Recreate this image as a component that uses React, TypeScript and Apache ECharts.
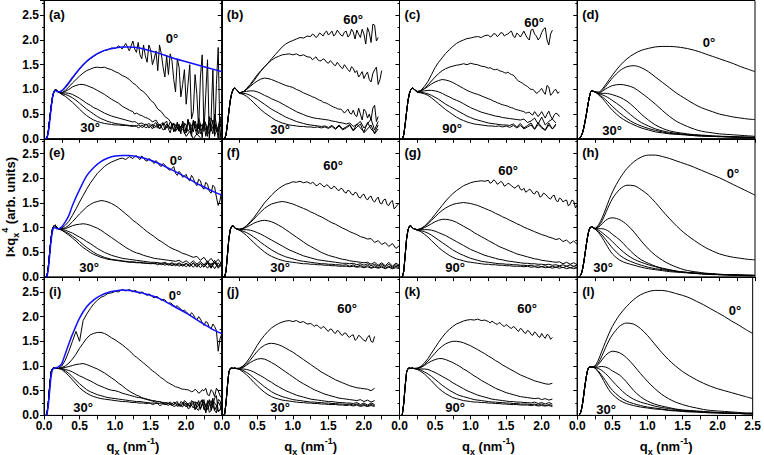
import React, { useEffect, useRef } from 'react';
import * as echarts from 'echarts';

// ---------- q grids ----------
const Q_LOW = [0.02, 0.04, 0.06, 0.08, 0.1, 0.12, 0.14, 0.16, 0.18, 0.2];
const Q_EXP = [0.25, 0.3, 0.35, 0.4, 0.45, 0.5, 0.55, 0.6, 0.65, 0.7,
  0.75, 0.8, 0.85, 0.9, 0.95, 1.0, 1.05, 1.1, 1.15, 1.2,
  1.25, 1.3, 1.35, 1.4, 1.45, 1.5, 1.55, 1.6, 1.65, 1.7,
  1.75, 1.8, 1.85, 1.9, 1.95, 2.0, 2.05, 2.1, 2.15, 2.2,
  2.25, 2.3, 2.35, 2.4, 2.45, 2.5];
// in-between q points used for the noisy tails
const Q_MID = [1.275, 1.325, 1.375, 1.425, 1.475, 1.525, 1.575, 1.625, 1.675, 1.725,
  1.775, 1.825, 1.875, 1.925, 1.975, 2.025, 2.075, 2.125, 2.175, 2.225,
  2.275, 2.325, 2.375, 2.425, 2.475];
const Q_SIM = [0.25, 0.3, 0.35, 0.4, 0.45, 0.5, 0.6, 0.7, 0.8, 0.9, 1.0, 1.1, 1.2, 1.3,
  1.4, 1.5, 1.6, 1.7, 1.8, 1.9, 2.0, 2.1, 2.2, 2.3, 2.4, 2.5];
const Q_FIT = [0.25, 0.3, 0.35, 0.4, 0.5, 0.6, 0.7, 0.8, 0.9, 1.0, 1.1, 1.2, 1.3, 1.4, 1.6, 1.8, 2.0, 2.2, 2.4, 2.5];

// ---------- tick labels ----------
const X_TICKS = ['0.0', '0.5', '1.0', '1.5', '2.0', '2.5'];
const Y_TICKS = ['0.0', '0.5', '1.0', '1.5', '2.0', '2.5'];
const PANEL_IDS = ['(a)', '(b)', '(c)', '(d)', '(e)', '(f)', '(g)', '(h)', '(i)', '(j)', '(k)', '(l)'];

// ---------- panel (a) ----------
const LOW_A = [0, 0, 0.15, 0.4, 0.65, 0.85, 0.96, 1.0, 0.98, 0.95];
const FITLOW_A = [0, 0.02, 0.12, 0.35, 0.62, 0.84, 0.95, 0.98, 0.96, 0.95];
const FIT_A = [0.97, 1.05, 1.14, 1.24, 1.42, 1.57, 1.68, 1.76, 1.81, 1.84, 1.86, 1.86, 1.85, 1.82, 1.74, 1.64, 1.56, 1.48, 1.4, 1.36];
const A0 = [0.97, 1.03, 1.12, 1.22, 1.32, 1.41, 1.49, 1.56, 1.62, 1.67,
  1.72, 1.75, 1.79, 1.8, 1.84, 1.83, 1.88, 1.82, 1.93, 1.78,
  1.98, 1.75, 1.7, 1.9, 1.55, 1.8, 1.62, 1.38, 1.72, 1.25,
  1.3, 1.58, 0.95, 1.45, 1.1, 0.7, 1.5, 0.55, 0.9, 1.25,
  0.15, 1.6, 0.4, 0.05, 1.85, 0.3];
const A0_MID = [1.82, 1.95, 1.62, 1.68, 1.9, 1.5, 1.78, 1.9, 1.45, 1.68,
  1.72, 1.2, 1.62, 0.85, 1.4, 1.1, 0.4, 1.3, 0.2, 1.7,
  0.9, 0.0, 1.4, 1.1, 0.0];
const A1 = [0.93, 0.98, 1.05, 1.13, 1.2, 1.27, 1.33, 1.38, 1.41, 1.44,
  1.45, 1.44, 1.45, 1.42, 1.4, 1.36, 1.33, 1.28, 1.25, 1.2,
  1.13, 1.08, 1.0, 0.95, 0.88, 0.78, 0.72, 0.6, 0.55, 0.45,
  0.4, 0.3, 0.28, 0.15, 0.2, 0.05, 0.15, 0.0, 0.1, 0.02,
  null, null, null, null, null, null];
const A2 = [0.93, 0.96, 1.0, 1.05, 1.08, 1.1, 1.1, 1.08, 1.05, 1.02,
  0.98, 0.94, 0.9, 0.85, 0.8, 0.76, 0.72, 0.66, 0.62, 0.58,
  0.55, 0.52, 0.48, 0.45, 0.42, 0.38, 0.36, 0.32, 0.3, 0.28,
  0.25, 0.3, 0.22, 0.18, 0.32, 0.15, 0.24, 0.35, 0.08, 0.3,
  0.4, 0.05, 0.22, 0.5, 0.0, 0.35];
const A2_MID = [0.5, 0.5, 0.47, 0.43, 0.4, 0.34, 0.38, 0.27, 0.33, 0.22,
  0.34, 0.15, 0.3, 0.24, 0.1, 0.38, 0.12, 0.2, 0.42, 0.02,
  0.3, 0.45, 0.1, 0.28, 0.45];
const A3 = [0.92, 0.93, 0.92, 0.9, 0.86, 0.82, 0.77, 0.72, 0.68, 0.63,
  0.6, 0.56, 0.52, 0.49, 0.46, 0.44, 0.42, 0.4, 0.38, 0.36,
  0.34, 0.33, 0.31, 0.3, 0.29, 0.28, 0.3, 0.24, 0.27, 0.32,
  0.2, 0.26, 0.15, 0.3, 0.36, 0.12, 0.22, 0.38, 0.15, 0.1,
  0.38, 0.2, 0.42, 0.08, 0.25, 0.2];
const A3_MID = [0.35, 0.3, 0.32, 0.28, 0.31, 0.25, 0.33, 0.2, 0.3, 0.36,
  0.12, 0.32, 0.22, 0.1, 0.28, 0.4, 0.05, 0.3, 0.35, 0.18,
  0.05, 0.38, 0.3, 0.15, 0.4];
const A4 = [0.91, 0.9, 0.87, 0.83, 0.78, 0.72, 0.66, 0.6, 0.55, 0.5,
  0.45, 0.41, 0.38, 0.35, 0.33, 0.31, 0.3, 0.29, 0.28, 0.27,
  0.27, 0.26, 0.27, 0.24, 0.28, 0.25, 0.22, 0.3, 0.24, 0.18,
  0.27, 0.31, 0.2, 0.16, 0.28, 0.22, 0.33, 0.14, 0.24, 0.3,
  0.35, 0.15, 0.22, 0.32, 0.14, 0.24];
const A4_MID = [0.25, 0.28, 0.23, 0.3, 0.22, 0.3, 0.25, 0.2, 0.32, 0.25,
  0.2, 0.14, 0.34, 0.25, 0.15, 0.3, 0.2, 0.36, 0.1, 0.25,
  0.3, 0.1, 0.38, 0.2, 0.3];
const A5 = [0.9, 0.86, 0.8, 0.74, 0.67, 0.6, 0.53, 0.47, 0.42, 0.38,
  0.35, 0.33, 0.31, 0.3, 0.29, 0.28, 0.28, 0.27, 0.27, 0.26,
  0.25, 0.26, 0.24, 0.26, 0.23, 0.25, 0.27, 0.22, 0.24, 0.2,
  0.26, 0.23, 0.28, 0.19, 0.22, 0.27, 0.2, 0.3, 0.25, 0.17,
  0.28, 0.22, 0.16, 0.3, 0.22, 0.25];
const A5_MID = [0.27, 0.22, 0.28, 0.23, 0.27, 0.2, 0.25, 0.3, 0.18, 0.3,
  0.2, 0.3, 0.22, 0.26, 0.32, 0.15, 0.28, 0.22, 0.33, 0.2,
  0.18, 0.32, 0.24, 0.14, 0.3];

// ---------- panel (b) ----------
const LOW_B = [null, 0, 0.08, 0.3, 0.55, 0.78, 0.92, 1.0, 1.03, 1.01];
const B0 = [0.93, 0.95, 1.02, 1.1, 1.2, 1.3, 1.38, 1.45, 1.53, 1.62,
  1.7, 1.78, 1.86, 1.92, 1.96, 1.99, 2.02, 2.05, 2.04, 2.08,
  2.07, 2.1, 2.08, 2.12, 2.15, 2.1, 2.18, 2.12, 2.15, 2.08,
  2.18, 2.1, 2.16, 2.2, 2.05, 2.12, 2.25, 1.95, 2.3, 2.05,
  null, null, null, null, null, null];
const B0_MID = [2.12, 2.05, 2.14, 2.08, 2.18, 2.14, 2.08, 2.2, 2.1, 2.16,
  2.06, 2.22, 2.02, 2.12, 2.22, 1.92, 2.15, 2.32, 1.98, null,
  null, null, null, null, null];
const B1 = [0.93, 0.95, 1.0, 1.08, 1.17, 1.27, 1.37, 1.46, 1.53, 1.59,
  1.64, 1.67, 1.7, 1.71, 1.72, 1.7, 1.72, 1.68, 1.7, 1.66,
  1.65, 1.63, 1.6, 1.58, 1.6, 1.53, 1.55, 1.48, 1.5, 1.42,
  1.45, 1.36, 1.42, 1.38, 1.3, 1.22, 1.35, 1.15, 1.4, 1.1,
  1.38, null, null, null, null, null];
const B1_MID = [1.6, 1.66, 1.58, 1.62, 1.55, 1.58, 1.5, 1.55, 1.45, 1.5,
  1.4, 1.46, 1.34, 1.25, 1.36, 1.3, 1.2, 1.32, 1.45, 1.2,
  null, null, null, null, null];
const B2 = [0.93, 0.95, 1.0, 1.06, 1.12, 1.17, 1.21, 1.23, 1.22, 1.2,
  1.17, 1.14, 1.11, 1.08, 1.06, 1.04, 1.0, 0.97, 0.93, 0.9,
  0.87, 0.84, 0.8, 0.77, 0.73, 0.7, 0.66, 0.63, 0.6, 0.57,
  0.56, 0.52, 0.58, 0.45, 0.5, 0.6, 0.42, 0.38, 0.68, 0.45,
  null, null, null, null, null, null];
const B2_MID = [0.85, 0.82, 0.78, 0.74, 0.72, 0.68, 0.64, 0.61, 0.6, 0.52,
  0.6, 0.5, 0.48, 0.62, 0.38, 0.55, 0.5, 0.62, 0.35, null,
  null, null, null, null, null];
const B3 = [0.93, 0.95, 0.96, 0.97, 0.97, 0.95, 0.92, 0.88, 0.85, 0.81,
  0.78, 0.75, 0.71, 0.67, 0.63, 0.59, 0.55, 0.52, 0.49, 0.46,
  0.44, 0.42, 0.41, 0.4, 0.39, 0.38, 0.36, 0.35, 0.33, 0.32,
  0.3, 0.32, 0.25, 0.29, 0.35, 0.22, 0.3, 0.4, 0.18, 0.35,
  null, null, null, null, null, null];
const B4 = [0.92, 0.92, 0.91, 0.88, 0.84, 0.8, 0.75, 0.7, 0.65, 0.6,
  0.56, 0.52, 0.48, 0.44, 0.41, 0.38, 0.35, 0.33, 0.31, 0.29,
  0.28, 0.27, 0.26, 0.25, 0.26, 0.23, 0.27, 0.21, 0.28, 0.2,
  0.24, 0.29, 0.17, 0.3, 0.22, 0.14, 0.33, 0.2, 0.12, 0.28,
  null, null, null, null, null, null];
const B5 = [0.92, 0.9, 0.86, 0.8, 0.73, 0.66, 0.59, 0.53, 0.48, 0.43,
  0.38, 0.35, 0.32, 0.3, 0.28, 0.27, 0.26, 0.25, 0.25, 0.24,
  0.24, 0.23, 0.24, 0.22, 0.24, 0.21, 0.25, 0.19, 0.26, 0.18,
  0.22, 0.27, 0.16, 0.24, 0.3, 0.12, 0.2, 0.28, 0.1, 0.2,
  null, null, null, null, null, null];

// ---------- panel (c) ----------
const LOW_C = [null, 0, 0.08, 0.3, 0.55, 0.78, 0.92, 1.0, 1.03, 1.01];
const C0 = [0.96, 0.98, 1.06, 1.16, 1.3, 1.44, 1.55, 1.64, 1.73, 1.8,
  1.87, 1.93, 1.97, 2.0, 2.03, 2.04, 2.06, 2.07, 2.05, 2.09,
  2.1, 2.08, 2.12, 2.1, 2.14, 2.11, 2.16, 2.08, 2.14, 2.06,
  2.18, 2.04, 2.2, 2.12, 2.0, 2.15, 2.25, 1.9, 2.2, null,
  null, null, null, null, null, null];
const C0_MID = [2.06, 2.13, 2.07, 2.15, 2.08, 2.12, 2.18, 2.05, 2.11, 2.12,
  2.1, 2.0, 2.22, 2.08, 2.05, 2.22, 2.0, 2.12, null, null,
  null, null, null, null, null];
const C1 = [0.95, 0.97, 1.02, 1.09, 1.17, 1.25, 1.32, 1.38, 1.42, 1.45,
  1.47, 1.49, 1.5, 1.52, 1.5, 1.53, 1.51, 1.5, 1.47, 1.46,
  1.43, 1.42, 1.4, 1.38, 1.36, 1.33, 1.32, 1.29, 1.2, 1.15,
  1.1, 1.06, 1.0, 0.97, 0.94, 1.02, 0.9, 1.05, 0.92, 1.0,
  0.95, null, null, null, null, null];
const C1_MID = [1.44, 1.4, 1.41, 1.37, 1.34, 1.35, 1.3, 1.25, 1.17, 1.13,
  1.08, 1.02, 1.0, 0.92, 0.98, 0.95, 1.08, 0.88, 0.98, 0.92,
  null, null, null, null, null];
const C2 = [0.95, 0.97, 1.01, 1.06, 1.11, 1.15, 1.18, 1.2, 1.19, 1.17,
  1.14, 1.1, 1.06, 1.02, 0.98, 0.95, 0.92, 0.9, 0.87, 0.84,
  0.81, 0.78, 0.75, 0.72, 0.69, 0.67, 0.64, 0.62, 0.59, 0.57,
  0.55, 0.53, 0.5, 0.55, 0.45, 0.55, 0.42, 0.56, 0.4, 0.52,
  0.45, null, null, null, null, null];
const C2_MID = [0.8, 0.76, 0.73, 0.7, 0.68, 0.66, 0.63, 0.6, 0.58, 0.56,
  0.52, 0.54, 0.48, 0.5, 0.5, 0.48, 0.5, 0.46, 0.48, 0.5,
  null, null, null, null, null];
const C3 = [0.95, 0.96, 0.97, 0.98, 0.98, 0.97, 0.95, 0.92, 0.88, 0.85,
  0.81, 0.78, 0.75, 0.71, 0.67, 0.63, 0.6, 0.57, 0.54, 0.52,
  0.5, 0.48, 0.46, 0.45, 0.43, 0.42, 0.41, 0.4, 0.39, 0.38,
  0.4, 0.33, 0.36, 0.42, 0.3, 0.44, 0.28, 0.35, 0.4, 0.32,
  null, null, null, null, null, null];
const C4 = [0.94, 0.94, 0.93, 0.91, 0.88, 0.84, 0.8, 0.75, 0.7, 0.66,
  0.62, 0.58, 0.54, 0.5, 0.46, 0.43, 0.4, 0.38, 0.36, 0.34,
  0.32, 0.31, 0.3, 0.29, 0.28, 0.28, 0.27, 0.3, 0.24, 0.31,
  0.22, 0.27, 0.32, 0.2, 0.33, 0.24, 0.18, 0.32, 0.2, 0.3,
  null, null, null, null, null, null];
const C5 = [0.94, 0.93, 0.91, 0.88, 0.83, 0.77, 0.71, 0.65, 0.59, 0.54,
  0.49, 0.44, 0.4, 0.37, 0.34, 0.32, 0.3, 0.29, 0.28, 0.27,
  0.26, 0.26, 0.25, 0.26, 0.24, 0.26, 0.23, 0.27, 0.22, 0.27,
  0.2, 0.24, 0.28, 0.19, 0.29, 0.22, 0.17, 0.28, 0.2, 0.27,
  null, null, null, null, null, null];

// ---------- panel (d) simulated ----------
const LOW_D = [0, 0.02, 0.07, 0.15, 0.28, 0.43, 0.6, 0.77, 0.9, 0.97];
const D0 = [0.95, 0.95, 1.0, 1.1, 1.2, 1.3, 1.48, 1.62, 1.72, 1.79, 1.83, 1.86, 1.87, 1.87, 1.86, 1.84, 1.81, 1.77, 1.72, 1.67, 1.62, 1.57, 1.52, 1.46, 1.41, 1.36];
const D1 = [0.95, 0.93, 0.98, 1.06, 1.15, 1.24, 1.38, 1.46, 1.48, 1.44, 1.36, 1.25, 1.14, 1.03, 0.92, 0.83, 0.74, 0.66, 0.6, 0.55, 0.5, 0.47, 0.44, 0.42, 0.4, 0.39];
const D2 = [0.95, 0.92, 0.96, 1.01, 1.05, 1.08, 1.1, 1.08, 1.03, 0.93, 0.82, 0.7, 0.57, 0.45, 0.35, 0.28, 0.22, 0.17, 0.14, 0.12, 0.1, 0.09, 0.08, 0.07, 0.06, 0.05];
const D3 = [0.95, 0.92, 0.92, 0.92, 0.91, 0.89, 0.84, 0.76, 0.64, 0.5, 0.38, 0.28, 0.21, 0.16, 0.13, 0.11, 0.09, 0.08, 0.07, 0.06, 0.05, 0.05, 0.04, 0.04, 0.03, 0.03];
const D4 = [0.95, 0.91, 0.89, 0.86, 0.82, 0.77, 0.67, 0.55, 0.43, 0.33, 0.26, 0.2, 0.16, 0.13, 0.11, 0.09, 0.08, 0.07, 0.06, 0.05, 0.05, 0.04, 0.04, 0.03, 0.03, 0.03];
const D5 = [0.95, 0.9, 0.85, 0.79, 0.72, 0.65, 0.52, 0.41, 0.32, 0.26, 0.21, 0.17, 0.14, 0.11, 0.1, 0.09, 0.07, 0.06, 0.06, 0.05, 0.05, 0.04, 0.04, 0.03, 0.03, 0.03];
const D6 = [0.95, 0.89, 0.82, 0.74, 0.65, 0.57, 0.44, 0.35, 0.28, 0.22, 0.18, 0.14, 0.12, 0.1, 0.09, 0.08, 0.07, 0.06, 0.05, 0.05, 0.04, 0.04, 0.03, 0.03, 0.03, 0.02];

// ---------- panel (e) ----------
const LOW_E = [0, 0, 0.2, 0.5, 0.8, 0.98, 1.04, 1.05, 1.0, 0.98];
const FITLOW_E = [0, 0.02, 0.15, 0.45, 0.75, 0.93, 1.0, 1.0, 0.98, 0.98];
const FIT_E = [1.02, 1.12, 1.25, 1.45, 1.77, 2.05, 2.22, 2.34, 2.41, 2.45, 2.46, 2.46, 2.44, 2.41, 2.31, 2.17, 2.02, 1.86, 1.72, 1.66];
const E0 = [0.99, 1.05, 1.13, 1.25, 1.38, 1.52, 1.65, 1.78, 1.9, 2.0,
  2.1, 2.17, 2.24, 2.29, 2.33, 2.36, 2.39, 2.41, 2.38, 2.44,
  2.4, 2.46, 2.38, 2.42, 2.35, 2.38, 2.3, 2.32, 2.24, 2.27,
  2.18, 2.2, 2.1, 2.14, 2.02, 2.08, 1.95, 2.0, 1.85, 1.95,
  1.78, 1.88, 1.7, 1.82, 1.45, 1.75];
const E0_MID = [2.44, 2.41, 2.45, 2.36, 2.4, 2.33, 2.36, 2.26, 2.3, 2.22,
  2.16, 2.24, 2.06, 2.1, 2.05, 1.98, 2.06, 1.9, 1.98, 1.82,
  1.92, 1.74, 1.86, 1.62, 1.55];
const E1 = [0.98, 1.0, 1.05, 1.12, 1.2, 1.28, 1.35, 1.42, 1.47, 1.51,
  1.53, 1.55, 1.54, 1.52, 1.49, 1.45, 1.4, 1.34, 1.28, 1.22,
  1.15, 1.1, 1.04, 0.98, 0.92, 0.87, 0.82, 0.76, 0.72, 0.67,
  0.62, 0.58, 0.55, 0.52, 0.48, 0.46, 0.43, 0.4, 0.42, 0.34,
  0.4, 0.3, 0.38, 0.28, 0.36, 0.26];
const E2 = [0.97, 0.98, 1.01, 1.04, 1.06, 1.07, 1.08, 1.07, 1.05, 1.02,
  0.99, 0.95, 0.9, 0.85, 0.8, 0.75, 0.7, 0.65, 0.6, 0.56,
  0.52, 0.49, 0.47, 0.44, 0.42, 0.4, 0.38, 0.37, 0.36, 0.35,
  0.34, 0.33, 0.32, 0.34, 0.29, 0.33, 0.27, 0.33, 0.26, 0.32,
  0.24, 0.33, 0.23, 0.34, 0.22, 0.3];
const E3 = [0.96, 0.95, 0.92, 0.89, 0.85, 0.81, 0.77, 0.72, 0.68, 0.63,
  0.58, 0.54, 0.5, 0.47, 0.44, 0.42, 0.4, 0.38, 0.37, 0.36,
  0.35, 0.34, 0.33, 0.32, 0.31, 0.3, 0.3, 0.29, 0.28, 0.3,
  0.26, 0.29, 0.25, 0.29, 0.24, 0.28, 0.23, 0.29, 0.22, 0.28,
  0.21, 0.3, 0.2, 0.3, 0.2, 0.27];
const E4 = [0.95, 0.92, 0.88, 0.83, 0.78, 0.72, 0.66, 0.6, 0.55, 0.5,
  0.46, 0.43, 0.4, 0.38, 0.36, 0.35, 0.34, 0.33, 0.32, 0.31,
  0.31, 0.3, 0.3, 0.29, 0.28, 0.28, 0.27, 0.29, 0.25, 0.28,
  0.24, 0.27, 0.23, 0.27, 0.22, 0.27, 0.21, 0.28, 0.2, 0.27,
  0.2, 0.28, 0.18, 0.3, 0.18, 0.26];
const E5 = [0.95, 0.9, 0.85, 0.79, 0.73, 0.66, 0.6, 0.55, 0.5, 0.46,
  0.43, 0.4, 0.38, 0.36, 0.35, 0.34, 0.33, 0.32, 0.31, 0.3,
  0.3, 0.29, 0.29, 0.28, 0.28, 0.27, 0.28, 0.25, 0.28, 0.24,
  0.27, 0.23, 0.27, 0.22, 0.26, 0.21, 0.27, 0.2, 0.28, 0.19,
  0.27, 0.18, 0.28, 0.17, 0.29, 0.2];

// ---------- panel (f) ----------
const LOW_F = [0, 0, 0.12, 0.45, 0.78, 0.96, 1.03, 1.04, 1.0, 0.98];
const F0 = [0.96, 0.98, 1.04, 1.12, 1.2, 1.3, 1.4, 1.5, 1.58, 1.66,
  1.73, 1.79, 1.84, 1.88, 1.9, 1.93, 1.92, 1.94, 1.91, 1.93,
  1.89, 1.9, 1.86, 1.88, 1.83, 1.85, 1.79, 1.82, 1.75, 1.78,
  1.7, 1.74, 1.66, 1.7, 1.6, 1.68, 1.56, 1.64, 1.52, 1.62,
  1.48, 1.58, 1.45, 1.55, 1.42, 1.5];
const F0_MID = [1.92, 1.85, 1.9, 1.84, 1.87, 1.8, 1.84, 1.77, 1.8, 1.72,
  1.76, 1.68, 1.72, 1.62, 1.66, 1.6, 1.62, 1.55, 1.58, 1.5,
  1.56, 1.47, 1.52, 1.38, 1.47];
const F1 = [0.97, 0.99, 1.04, 1.1, 1.17, 1.25, 1.32, 1.39, 1.44, 1.48,
  1.5, 1.52, 1.53, 1.52, 1.5, 1.48, 1.45, 1.42, 1.39, 1.36,
  1.32, 1.29, 1.25, 1.22, 1.18, 1.14, 1.1, 1.07, 1.03, 0.99,
  0.96, 0.92, 0.89, 0.86, 0.82, 0.8, 0.77, 0.78, 0.7, 0.74,
  0.66, 0.7, 0.62, 0.68, 0.58, 0.64];
const F2 = [0.97, 0.98, 1.01, 1.05, 1.09, 1.12, 1.14, 1.15, 1.14, 1.12,
  1.09, 1.05, 1.01, 0.96, 0.91, 0.86, 0.81, 0.76, 0.71, 0.66,
  0.62, 0.58, 0.54, 0.5, 0.47, 0.44, 0.42, 0.4, 0.38, 0.36,
  0.35, 0.33, 0.32, 0.31, 0.3, 0.29, 0.3, 0.26, 0.3, 0.24,
  0.29, 0.23, 0.3, 0.22, 0.28, 0.24];
const F3 = [0.96, 0.96, 0.96, 0.95, 0.93, 0.9, 0.87, 0.83, 0.79, 0.75,
  0.71, 0.67, 0.63, 0.59, 0.55, 0.52, 0.49, 0.46, 0.43, 0.41,
  0.39, 0.37, 0.35, 0.34, 0.33, 0.32, 0.31, 0.3, 0.29, 0.28,
  0.28, 0.27, 0.28, 0.25, 0.27, 0.24, 0.27, 0.23, 0.26, 0.22,
  0.26, 0.21, 0.26, 0.2, 0.25, 0.21];
const F4 = [0.95, 0.93, 0.9, 0.86, 0.81, 0.76, 0.7, 0.65, 0.6, 0.55,
  0.51, 0.47, 0.44, 0.41, 0.39, 0.37, 0.35, 0.33, 0.32, 0.31,
  0.3, 0.29, 0.28, 0.27, 0.27, 0.26, 0.26, 0.25, 0.25, 0.24,
  0.25, 0.22, 0.25, 0.21, 0.24, 0.2, 0.24, 0.19, 0.23, 0.19,
  0.23, 0.18, 0.22, 0.18, 0.22, 0.19];
const F5 = [0.95, 0.9, 0.84, 0.77, 0.7, 0.63, 0.57, 0.51, 0.46, 0.42,
  0.39, 0.36, 0.34, 0.32, 0.31, 0.3, 0.29, 0.28, 0.27, 0.27,
  0.26, 0.26, 0.25, 0.25, 0.24, 0.24, 0.23, 0.23, 0.22, 0.22,
  0.22, 0.21, 0.22, 0.2, 0.21, 0.19, 0.21, 0.18, 0.2, 0.18,
  0.2, 0.17, 0.2, 0.17, 0.19, 0.17];

// ---------- panel (g) ----------
const LOW_G = [0, 0, 0.12, 0.45, 0.78, 0.96, 1.03, 1.04, 1.0, 0.98];
const G0 = [0.96, 0.98, 1.03, 1.1, 1.18, 1.27, 1.36, 1.45, 1.54, 1.62,
  1.69, 1.75, 1.8, 1.85, 1.88, 1.91, 1.93, 1.94, 1.95, 1.94,
  1.96, 1.92, 1.94, 1.9, 1.91, 1.86, 1.88, 1.82, 1.84, 1.78,
  1.8, 1.74, 1.76, 1.68, 1.72, 1.64, 1.68, 1.6, 1.64, 1.56,
  1.6, 1.52, 1.56, 1.48, 1.54, 1.46];
const G0_MID = [1.9, 1.97, 1.88, 1.94, 1.84, 1.9, 1.85, 1.8, 1.86, 1.76,
  1.72, 1.78, 1.7, 1.74, 1.62, 1.7, 1.64, 1.58, 1.66, 1.52,
  1.58, 1.55, 1.44, 1.56, 1.4];
const G1 = [0.96, 0.98, 1.02, 1.08, 1.15, 1.22, 1.29, 1.35, 1.4, 1.44,
  1.47, 1.49, 1.5, 1.51, 1.5, 1.49, 1.47, 1.45, 1.42, 1.39,
  1.36, 1.33, 1.29, 1.26, 1.22, 1.19, 1.15, 1.12, 1.08, 1.05,
  1.01, 0.98, 0.95, 0.92, 0.89, 0.86, 0.84, 0.81, 0.79, 0.76,
  0.78, 0.72, 0.75, 0.68, 0.73, 0.66];
const G2 = [0.96, 0.97, 1.0, 1.04, 1.08, 1.12, 1.15, 1.17, 1.17, 1.16,
  1.14, 1.11, 1.07, 1.03, 0.99, 0.95, 0.9, 0.86, 0.82, 0.78,
  0.74, 0.7, 0.66, 0.62, 0.59, 0.56, 0.53, 0.5, 0.47, 0.45,
  0.43, 0.41, 0.39, 0.37, 0.36, 0.34, 0.33, 0.32, 0.31, 0.3,
  0.31, 0.27, 0.3, 0.26, 0.29, 0.25];
const G3 = [0.95, 0.96, 0.96, 0.96, 0.95, 0.93, 0.9, 0.87, 0.84, 0.8,
  0.76, 0.72, 0.68, 0.64, 0.6, 0.56, 0.53, 0.5, 0.47, 0.44,
  0.42, 0.4, 0.38, 0.36, 0.35, 0.33, 0.32, 0.31, 0.3, 0.29,
  0.28, 0.28, 0.27, 0.27, 0.26, 0.26, 0.25, 0.26, 0.24, 0.25,
  0.23, 0.25, 0.22, 0.25, 0.22, 0.24];
const G4 = [0.95, 0.94, 0.92, 0.89, 0.85, 0.8, 0.75, 0.7, 0.65, 0.6,
  0.55, 0.51, 0.47, 0.44, 0.41, 0.38, 0.36, 0.34, 0.32, 0.31,
  0.3, 0.29, 0.28, 0.27, 0.27, 0.26, 0.26, 0.25, 0.25, 0.24,
  0.24, 0.23, 0.24, 0.22, 0.23, 0.21, 0.23, 0.2, 0.22, 0.2,
  0.22, 0.19, 0.22, 0.19, 0.21, 0.19];
const G5 = [0.95, 0.92, 0.87, 0.81, 0.74, 0.67, 0.6, 0.54, 0.49, 0.44,
  0.4, 0.37, 0.35, 0.33, 0.31, 0.3, 0.29, 0.28, 0.27, 0.26,
  0.26, 0.25, 0.25, 0.24, 0.24, 0.23, 0.23, 0.22, 0.22, 0.22,
  0.21, 0.22, 0.2, 0.21, 0.19, 0.21, 0.19, 0.2, 0.18, 0.2,
  0.18, 0.2, 0.17, 0.19, 0.17, 0.19];

// ---------- panel (h) simulated ----------
const LOW_H = [0, 0.02, 0.08, 0.2, 0.38, 0.58, 0.77, 0.92, 1.0, 1.02];
const H0 = [0.99, 1.06, 1.2, 1.38, 1.57, 1.74, 2.0, 2.2, 2.34, 2.43, 2.47, 2.47, 2.44, 2.4, 2.35, 2.3, 2.25, 2.19, 2.13, 2.07, 2.01, 1.94, 1.87, 1.8, 1.73, 1.66];
const H1 = [0.98, 1.03, 1.14, 1.3, 1.46, 1.6, 1.78, 1.86, 1.85, 1.77, 1.66, 1.51, 1.34, 1.18, 1.03, 0.9, 0.79, 0.69, 0.6, 0.53, 0.47, 0.43, 0.4, 0.38, 0.36, 0.35];
const H2 = [0.98, 1.01, 1.08, 1.15, 1.19, 1.2, 1.16, 1.06, 0.91, 0.73, 0.57, 0.44, 0.34, 0.26, 0.2, 0.15, 0.12, 0.1, 0.08, 0.07, 0.06, 0.05, 0.05, 0.04, 0.04, 0.04];
const H3 = [0.98, 0.98, 0.98, 0.96, 0.92, 0.86, 0.75, 0.6, 0.46, 0.35, 0.28, 0.22, 0.18, 0.15, 0.12, 0.1, 0.09, 0.08, 0.07, 0.06, 0.05, 0.05, 0.04, 0.04, 0.04, 0.03];
const H4 = [0.98, 0.95, 0.9, 0.84, 0.78, 0.71, 0.57, 0.45, 0.36, 0.3, 0.25, 0.21, 0.17, 0.14, 0.12, 0.1, 0.09, 0.08, 0.07, 0.06, 0.05, 0.05, 0.04, 0.04, 0.03, 0.03];
const H5 = [0.97, 0.92, 0.85, 0.76, 0.67, 0.58, 0.44, 0.35, 0.29, 0.24, 0.2, 0.17, 0.15, 0.13, 0.11, 0.1, 0.08, 0.07, 0.06, 0.06, 0.05, 0.05, 0.04, 0.04, 0.03, 0.03];
const H6 = [0.97, 0.9, 0.8, 0.68, 0.56, 0.46, 0.34, 0.28, 0.24, 0.2, 0.17, 0.15, 0.13, 0.11, 0.1, 0.09, 0.08, 0.07, 0.06, 0.05, 0.05, 0.04, 0.04, 0.03, 0.03, 0.03];

// ---------- panel (i) ----------
const LOW_I = [0, 0.02, 0.25, 0.6, 0.88, 0.95, 0.96, 0.95, 0.96, 0.95];
const FITLOW_I = [0, 0.02, 0.2, 0.5, 0.8, 0.93, 0.95, 0.96, 0.97, 0.98];
const FIT_I = [1.05, 1.25, 1.45, 1.64, 1.97, 2.2, 2.34, 2.43, 2.49, 2.52, 2.54, 2.53, 2.5, 2.47, 2.38, 2.23, 2.07, 1.89, 1.72, 1.66];
const I0 = [1.0, 1.12, 1.3, 1.5, 1.7, 1.5, 1.92, 2.05, 2.16, 2.26,
  2.33, 2.39, 2.42, 2.47, 2.48, 2.51, 2.5, 2.55, 2.52, 2.55,
  2.5, 2.52, 2.47, 2.48, 2.43, 2.44, 2.38, 2.4, 2.33, 2.34,
  2.27, 2.26, 2.2, 2.18, 2.12, 2.1, 2.02, 2.04, 1.93, 1.95,
  1.82, 1.88, 1.75, 1.8, 1.3, 1.65];
const I0_MID = [2.53, 2.48, 2.5, 2.45, 2.46, 2.4, 2.41, 2.36, 2.35, 2.3,
  2.28, 2.22, 2.22, 2.15, 2.13, 2.06, 2.08, 1.97, 2.0, 1.88,
  1.9, 1.78, 1.85, 1.72, 1.55];
const I1 = [0.97, 1.0, 1.06, 1.14, 1.24, 1.36, 1.46, 1.56, 1.63, 1.66,
  1.68, 1.68, 1.66, 1.62, 1.57, 1.53, 1.48, 1.43, 1.37, 1.31,
  1.24, 1.18, 1.12, 1.06, 1.0, 0.94, 0.88, 0.82, 0.76, 0.71,
  0.66, 0.62, 0.58, 0.56, 0.53, 0.52, 0.5, 0.49, 0.5, 0.47,
  0.5, 0.42, 0.52, 0.38, 0.5, 0.35];
const I1_MID = [1.2, 1.15, 1.09, 1.03, 0.97, 0.9, 0.85, 0.79, 0.74, 0.68,
  0.64, 0.6, 0.57, 0.54, 0.53, 0.52, 0.48, 0.53, 0.45, 0.52,
  0.55, 0.4, 0.48, 0.55, 0.4];
const I2 = [0.96, 0.97, 0.99, 1.01, 1.03, 1.04, 1.05, 1.03, 1.0, 0.97,
  0.94, 0.9, 0.86, 0.81, 0.76, 0.71, 0.65, 0.6, 0.54, 0.49,
  0.45, 0.41, 0.38, 0.35, 0.33, 0.31, 0.3, 0.28, 0.27, 0.26,
  0.25, 0.24, 0.26, 0.2, 0.23, 0.27, 0.18, 0.28, 0.22, 0.12,
  0.32, 0.2, 0.1, 0.35, 0.08, 0.22];
const I2_MID = [0.43, 0.4, 0.36, 0.34, 0.32, 0.3, 0.29, 0.28, 0.26, 0.24,
  0.27, 0.22, 0.28, 0.18, 0.3, 0.2, 0.26, 0.12, 0.3, 0.25,
  0.05, 0.32, 0.2, 0.4, 0.1];
const I3 = [0.95, 0.93, 0.91, 0.88, 0.84, 0.8, 0.77, 0.73, 0.7, 0.66,
  0.62, 0.59, 0.56, 0.53, 0.51, 0.5, 0.48, 0.45, 0.43, 0.41,
  0.39, 0.37, 0.36, 0.34, 0.32, 0.3, 0.28, 0.27, 0.26, 0.25,
  0.24, 0.23, 0.25, 0.2, 0.26, 0.22, 0.18, 0.27, 0.16, 0.28,
  0.14, 0.3, 0.18, 0.1, 0.32, 0.15];
const I3_MID = [0.38, 0.36, 0.35, 0.33, 0.31, 0.29, 0.27, 0.28, 0.24, 0.26,
  0.22, 0.27, 0.18, 0.28, 0.2, 0.25, 0.3, 0.12, 0.22, 0.32,
  0.08, 0.24, 0.35, 0.05, 0.3];
const I4 = [0.94, 0.9, 0.85, 0.78, 0.71, 0.64, 0.58, 0.52, 0.48, 0.45,
  0.42, 0.4, 0.38, 0.36, 0.35, 0.34, 0.33, 0.32, 0.31, 0.3,
  0.29, 0.28, 0.28, 0.27, 0.26, 0.25, 0.25, 0.24, 0.25, 0.22,
  0.24, 0.2, 0.24, 0.19, 0.25, 0.17, 0.26, 0.15, 0.27, 0.14,
  0.28, 0.12, 0.3, 0.1, 0.27, 0.14];
const I5 = [0.93, 0.87, 0.8, 0.72, 0.64, 0.56, 0.5, 0.45, 0.41, 0.38,
  0.36, 0.34, 0.33, 0.32, 0.31, 0.3, 0.29, 0.28, 0.28, 0.27,
  0.26, 0.26, 0.25, 0.25, 0.24, 0.24, 0.23, 0.24, 0.21, 0.23,
  0.2, 0.22, 0.19, 0.22, 0.17, 0.23, 0.15, 0.24, 0.13, 0.25,
  0.12, 0.26, 0.1, 0.25, 0.08, 0.2];
const I5_MID = [0.26, 0.25, 0.25, 0.24, 0.25, 0.22, 0.25, 0.2, 0.24, 0.22,
  0.25, 0.18, 0.24, 0.2, 0.26, 0.14, 0.22, 0.28, 0.1, 0.3,
  0.2, 0.06, 0.3, 0.2, 0.12];

// ---------- panel (j) ----------
const LOW_J = [0, 0.02, 0.25, 0.6, 0.88, 0.95, 0.96, 0.95, 0.96, 0.95];
const J0 = [0.96, 1.0, 1.08, 1.18, 1.3, 1.42, 1.53, 1.62, 1.7, 1.77,
  1.82, 1.86, 1.89, 1.91, 1.92, 1.9, 1.92, 1.88, 1.9, 1.85,
  1.86, 1.8, 1.82, 1.76, 1.78, 1.7, 1.74, 1.66, 1.7, 1.62,
  1.66, 1.58, 1.63, 1.55, 1.6, 1.52, 1.58, 1.5, 1.6, null,
  null, null, null, null, null, null];
const J0_MID = [1.84, 1.83, 1.78, 1.8, 1.73, 1.75, 1.68, 1.72, 1.64, 1.67,
  1.6, 1.62, 1.52, 1.62, 1.55, 1.5, 1.62, 1.48, null, null,
  null, null, null, null, null];
const J1 = [0.95, 0.98, 1.04, 1.12, 1.21, 1.3, 1.37, 1.42, 1.45, 1.46,
  1.45, 1.43, 1.4, 1.36, 1.32, 1.28, 1.23, 1.18, 1.13, 1.08,
  1.03, 0.98, 0.93, 0.88, 0.84, 0.8, 0.76, 0.72, 0.69, 0.66,
  0.63, 0.6, 0.58, 0.56, 0.55, 0.54, 0.53, 0.5, 0.55, null,
  null, null, null, null, null, null];
const J2 = [0.95, 0.97, 1.02, 1.07, 1.11, 1.14, 1.15, 1.14, 1.11, 1.07,
  1.03, 0.98, 0.93, 0.88, 0.83, 0.78, 0.73, 0.68, 0.64, 0.6,
  0.56, 0.52, 0.49, 0.46, 0.43, 0.41, 0.39, 0.37, 0.35, 0.34,
  0.33, 0.32, 0.31, 0.3, 0.32, 0.28, 0.31, 0.27, 0.3, null,
  null, null, null, null, null, null];
const J3 = [0.94, 0.94, 0.93, 0.91, 0.88, 0.84, 0.8, 0.76, 0.71, 0.67,
  0.62, 0.58, 0.54, 0.5, 0.47, 0.44, 0.41, 0.39, 0.37, 0.35,
  0.33, 0.32, 0.31, 0.3, 0.29, 0.28, 0.28, 0.27, 0.26, 0.26,
  0.25, 0.25, 0.24, 0.26, 0.22, 0.25, 0.21, 0.25, 0.22, null,
  null, null, null, null, null, null];
const J4 = [0.94, 0.91, 0.87, 0.82, 0.76, 0.7, 0.64, 0.58, 0.53, 0.48,
  0.44, 0.41, 0.38, 0.36, 0.34, 0.32, 0.31, 0.3, 0.29, 0.28,
  0.27, 0.27, 0.26, 0.26, 0.25, 0.25, 0.24, 0.24, 0.23, 0.23,
  0.22, 0.23, 0.21, 0.23, 0.2, 0.22, 0.19, 0.22, 0.2, null,
  null, null, null, null, null, null];
const J5 = [0.93, 0.88, 0.82, 0.75, 0.67, 0.6, 0.53, 0.47, 0.42, 0.38,
  0.35, 0.33, 0.31, 0.3, 0.29, 0.28, 0.27, 0.26, 0.26, 0.25,
  0.25, 0.24, 0.24, 0.23, 0.23, 0.22, 0.22, 0.22, 0.21, 0.21,
  0.2, 0.21, 0.19, 0.21, 0.18, 0.2, 0.18, 0.2, 0.18, null,
  null, null, null, null, null, null];

// ---------- panel (k) ----------
const LOW_K = [0, 0.02, 0.25, 0.6, 0.88, 0.95, 0.96, 0.95, 0.96, 0.95];
const K0 = [0.96, 0.99, 1.06, 1.15, 1.26, 1.37, 1.48, 1.58, 1.67, 1.74,
  1.8, 1.85, 1.88, 1.91, 1.93, 1.94, 1.93, 1.95, 1.92, 1.93,
  1.9, 1.91, 1.86, 1.88, 1.82, 1.84, 1.78, 1.8, 1.73, 1.76,
  1.68, 1.72, 1.64, 1.69, 1.6, 1.66, 1.56, 1.62, 1.58, null,
  null, null, null, null, null, null];
const K0_MID = [1.87, 1.88, 1.84, 1.86, 1.8, 1.81, 1.76, 1.78, 1.7, 1.74,
  1.66, 1.7, 1.62, 1.66, 1.58, 1.6, 1.64, 1.54, null, null,
  null, null, null, null, null];
const K1 = [0.95, 0.98, 1.03, 1.1, 1.18, 1.26, 1.34, 1.4, 1.45, 1.48,
  1.5, 1.5, 1.49, 1.47, 1.44, 1.41, 1.37, 1.33, 1.29, 1.25,
  1.2, 1.16, 1.11, 1.07, 1.02, 0.98, 0.94, 0.9, 0.86, 0.82,
  0.79, 0.76, 0.73, 0.7, 0.68, 0.66, 0.64, 0.63, 0.65, null,
  null, null, null, null, null, null];
const K2 = [0.95, 0.97, 1.01, 1.06, 1.1, 1.13, 1.15, 1.15, 1.13, 1.1,
  1.07, 1.03, 0.99, 0.94, 0.9, 0.85, 0.8, 0.76, 0.71, 0.67,
  0.63, 0.59, 0.55, 0.52, 0.49, 0.46, 0.44, 0.42, 0.4, 0.38,
  0.37, 0.36, 0.35, 0.34, 0.35, 0.32, 0.34, 0.31, 0.33, null,
  null, null, null, null, null, null];
const K3 = [0.94, 0.94, 0.94, 0.93, 0.9, 0.87, 0.83, 0.79, 0.75, 0.71,
  0.66, 0.62, 0.58, 0.54, 0.5, 0.47, 0.44, 0.41, 0.39, 0.37,
  0.35, 0.33, 0.32, 0.31, 0.3, 0.29, 0.28, 0.28, 0.27, 0.27,
  0.26, 0.26, 0.25, 0.27, 0.24, 0.26, 0.23, 0.26, 0.23, null,
  null, null, null, null, null, null];
const K4 = [0.94, 0.92, 0.88, 0.84, 0.79, 0.73, 0.67, 0.61, 0.56, 0.51,
  0.47, 0.43, 0.4, 0.38, 0.36, 0.34, 0.32, 0.31, 0.3, 0.29,
  0.28, 0.27, 0.27, 0.26, 0.26, 0.25, 0.25, 0.24, 0.24, 0.23,
  0.23, 0.23, 0.22, 0.23, 0.21, 0.23, 0.2, 0.22, 0.2, null,
  null, null, null, null, null, null];
const K5 = [0.93, 0.89, 0.84, 0.77, 0.7, 0.62, 0.55, 0.49, 0.44, 0.4,
  0.36, 0.34, 0.32, 0.3, 0.29, 0.28, 0.27, 0.27, 0.26, 0.26,
  0.25, 0.25, 0.24, 0.24, 0.23, 0.23, 0.22, 0.22, 0.22, 0.21,
  0.21, 0.21, 0.2, 0.21, 0.19, 0.2, 0.19, 0.2, 0.18, null,
  null, null, null, null, null, null];

// ---------- panel (l) simulated ----------
const LOW_L = [0, 0.03, 0.12, 0.28, 0.5, 0.7, 0.87, 0.96, 0.98, 0.98];
const L0 = [1.0, 1.12, 1.3, 1.48, 1.65, 1.8, 2.03, 2.2, 2.34, 2.44, 2.5, 2.53, 2.53, 2.51, 2.47, 2.43, 2.38, 2.31, 2.24, 2.16, 2.08, 2.0, 1.91, 1.83, 1.74, 1.66];
const L1 = [0.99, 1.06, 1.2, 1.36, 1.51, 1.63, 1.8, 1.87, 1.85, 1.76, 1.62, 1.45, 1.28, 1.13, 1.0, 0.89, 0.8, 0.72, 0.65, 0.59, 0.54, 0.5, 0.46, 0.42, 0.38, 0.34];
const L2 = [0.98, 1.03, 1.12, 1.21, 1.27, 1.3, 1.27, 1.17, 1.02, 0.85, 0.69, 0.55, 0.43, 0.34, 0.27, 0.22, 0.18, 0.15, 0.12, 0.1, 0.09, 0.08, 0.07, 0.06, 0.05, 0.05];
const L3 = [0.97, 0.98, 0.99, 0.98, 0.95, 0.9, 0.82, 0.68, 0.51, 0.38, 0.29, 0.23, 0.19, 0.16, 0.13, 0.11, 0.1, 0.09, 0.08, 0.07, 0.06, 0.05, 0.05, 0.04, 0.04, 0.04];
const L4 = [0.97, 0.95, 0.91, 0.85, 0.78, 0.7, 0.55, 0.42, 0.33, 0.27, 0.23, 0.19, 0.16, 0.14, 0.12, 0.1, 0.09, 0.08, 0.07, 0.06, 0.06, 0.05, 0.05, 0.04, 0.04, 0.03];
const L5 = [0.96, 0.9, 0.81, 0.71, 0.6, 0.51, 0.38, 0.29, 0.24, 0.2, 0.17, 0.15, 0.13, 0.11, 0.1, 0.09, 0.08, 0.07, 0.06, 0.06, 0.05, 0.05, 0.04, 0.04, 0.03, 0.03];
const L6 = [0.96, 0.88, 0.77, 0.64, 0.52, 0.43, 0.31, 0.24, 0.2, 0.17, 0.15, 0.13, 0.12, 0.1, 0.09, 0.08, 0.07, 0.07, 0.06, 0.05, 0.05, 0.04, 0.04, 0.04, 0.03, 0.03];

// ---------- panel assembly ----------
type Arr = (number | null)[];
type Panel = { kind: 'exp' | 'sim'; low: Arr; curves: Arr[]; mids?: (Arr | null)[]; fitLow?: number[]; fit?: number[] };
const PANELS: Panel[] = [
  { kind: 'exp', low: LOW_A, curves: [A0, A1, A2, A3, A4, A5], mids: [A0_MID, null, A2_MID, A3_MID, A4_MID, A5_MID], fitLow: FITLOW_A, fit: FIT_A },
  { kind: 'exp', low: LOW_B, curves: [B0, B1, B2, B3, B4, B5], mids: [B0_MID, B1_MID, B2_MID, null, null, null] },
  { kind: 'exp', low: LOW_C, curves: [C0, C1, C2, C3, C4, C5], mids: [C0_MID, C1_MID, C2_MID, null, null, null] },
  { kind: 'sim', low: LOW_D, curves: [D0, D1, D2, D3, D4, D5, D6] },
  { kind: 'exp', low: LOW_E, curves: [E0, E1, E2, E3, E4, E5], mids: [E0_MID, null, null, null, null, null], fitLow: FITLOW_E, fit: FIT_E },
  { kind: 'exp', low: LOW_F, curves: [F0, F1, F2, F3, F4, F5], mids: [F0_MID, null, null, null, null, null] },
  { kind: 'exp', low: LOW_G, curves: [G0, G1, G2, G3, G4, G5], mids: [G0_MID, null, null, null, null, null] },
  { kind: 'sim', low: LOW_H, curves: [H0, H1, H2, H3, H4, H5, H6] },
  { kind: 'exp', low: LOW_I, curves: [I0, I1, I2, I3, I4, I5], mids: [I0_MID, I1_MID, I2_MID, I3_MID, null, I5_MID], fitLow: FITLOW_I, fit: FIT_I },
  { kind: 'exp', low: LOW_J, curves: [J0, J1, J2, J3, J4, J5], mids: [J0_MID, null, null, null, null, null] },
  { kind: 'exp', low: LOW_K, curves: [K0, K1, K2, K3, K4, K5], mids: [K0_MID, null, null, null, null, null] },
  { kind: 'sim', low: LOW_L, curves: [L0, L1, L2, L3, L4, L5, L6] },
];

// angle annotations: [panel index, text, pixel x, pixel y]
const ANGLE_LABELS: [number, string, number, number][] = [
  [0, '0°', 172, 38], [0, '30°', 90, 127],
  [1, '60°', 353, 19], [1, '30°', 280, 129],
  [2, '60°', 534, 22], [2, '90°', 452, 128],
  [3, '0°', 709, 42], [3, '30°', 612, 130],
  [4, '0°', 176, 160], [4, '30°', 89, 267],
  [5, '60°', 333, 165], [5, '30°', 280, 267],
  [6, '60°', 508, 170], [6, '90°', 455, 267],
  [7, '0°', 733, 173], [7, '30°', 603, 267],
  [8, '0°', 175, 295], [8, '30°', 83, 407],
  [9, '60°', 347, 308], [9, '30°', 280, 407],
  [10, '60°', 527, 308], [10, '90°', 455, 407],
  [11, '0°', 735, 310], [11, '30°', 606, 409],
];

// ---------- layout ----------
const FONT = "'Liberation Sans', Arial, Helvetica, sans-serif";
const GL = 44, GW = 177.75, GT = 0.5, GH = 138.3;
const NCOL = 4;

function pairs(qs: number[], vs: Arr) {
  const out: number[][] = [];
  qs.forEach((q, i) => { const v = vs[i]; if (v !== null && v !== undefined) out.push([q, v]); });
  return out;
}

function buildOption() {
  const grid: any[] = [], xAxis: any[] = [], yAxis: any[] = [], series: any[] = [], graphic: any[] = [];
  PANELS.forEach((p, idx) => {
    const r = Math.floor(idx / NCOL), c = idx % NCOL;
    const left = GL + c * GW, top = GT + r * GH;
    grid.push({ left, top, width: GW, height: GH, show: true, borderColor: '#000', borderWidth: 1, backgroundColor: 'transparent' });
    xAxis.push({
      type: 'value', gridIndex: idx, min: 0, max: 2.5, interval: 0.25,
      axisLine: { show: true, onZero: false, lineStyle: { color: '#000', width: 1 } },
      axisTick: { show: true, length: 4, lineStyle: { color: '#000', width: 1 } },
      splitLine: { show: false },
      axisLabel: {
        show: r === 2, color: '#000', fontSize: 12, fontWeight: 'bold', fontFamily: FONT, margin: 5,
        formatter: (v: number) => {
          const k = Math.round(v * 2);
          if (Math.abs(v * 2 - k) > 1e-6) return '';
          if (k === 5 && c !== 3) return '';
          return X_TICKS[k] ?? '';
        },
      },
    });
    yAxis.push({
      type: 'value', gridIndex: idx, min: 0, max: 2.8, interval: 0.5,
      axisLine: { show: true, onZero: false, lineStyle: { color: '#000', width: 1 } },
      axisTick: { show: true, length: 4, lineStyle: { color: '#000', width: 1 } },
      minorTick: { show: true, splitNumber: 2, length: 2, lineStyle: { color: '#000', width: 1 } },
      splitLine: { show: false },
      axisLabel: {
        show: c === 0, color: '#000', fontSize: 12, fontWeight: 'bold', fontFamily: FONT, margin: 5, showMaxLabel: false,
        formatter: (v: number) => {
          const k = Math.round(v * 2);
          if (Math.abs(v * 2 - k) > 1e-6) return '';
          return Y_TICKS[k] ?? '';
        },
      },
    });
    const qMain = p.kind === 'sim' ? Q_SIM : Q_EXP;
    p.curves.forEach((vals, ci) => {
      let data = pairs(Q_LOW, p.low).concat(pairs(qMain, vals));
      const mid = p.mids ? p.mids[ci] : null;
      if (mid) data = data.concat(pairs(Q_MID, mid)).sort((u, w) => u[0] - w[0]);
      series.push({
        type: 'line', xAxisIndex: idx, yAxisIndex: idx, showSymbol: false, symbol: 'none',
        smooth: p.kind === 'sim' ? 0.3 : false,
        lineStyle: { color: '#000', width: 1 },
        data,
        silent: true, z: 2,
      });
    });
    if (p.fit && p.fitLow) {
      series.push({
        type: 'line', xAxisIndex: idx, yAxisIndex: idx, showSymbol: false, symbol: 'none', smooth: 0.3,
        lineStyle: { color: '#1010ff', width: 1.5 },
        data: pairs(Q_LOW, p.fitLow).concat(pairs(Q_FIT, p.fit)),
        silent: true, z: 3,
      });
    }
    graphic.push({
      type: 'text', x: left + 5, y: top + 14,
      style: { text: PANEL_IDS[idx], fill: '#000', fontSize: 13, fontWeight: 'bold', fontFamily: FONT, align: 'left', verticalAlign: 'middle' },
      z: 10,
    });
    if (r === 2) {
      graphic.push({
        type: 'text', x: left + GW / 2, y: 446,
        style: {
          text: '{a|q}{s|x}{a| (nm}{p|-1}{a|)}', align: 'center', verticalAlign: 'middle',
          rich: {
            a: { fontSize: 13, fontWeight: 'bold', fontFamily: FONT, fill: '#000', lineHeight: 20 },
            s: { fontSize: 9, fontWeight: 'bold', fontFamily: FONT, fill: '#000', lineHeight: 12, verticalAlign: 'bottom' },
            p: { fontSize: 9, fontWeight: 'bold', fontFamily: FONT, fill: '#000', lineHeight: 12, verticalAlign: 'top' },
          },
        },
        z: 10,
      });
    }
  });
  ANGLE_LABELS.forEach(([, t, x, y]) => {
    graphic.push({
      type: 'text', x, y,
      style: { text: t, fill: '#000', fontSize: 13, fontWeight: 'bold', fontFamily: FONT, align: 'center', verticalAlign: 'middle' },
      z: 10,
    });
  });
  graphic.push({
    type: 'text', x: 10, y: 207, rotation: Math.PI / 2,
    style: {
      text: '{a|I×q}{s|x}{p|4}{a| (arb. units)}', align: 'center', verticalAlign: 'middle',
      rich: {
        a: { fontSize: 13, fontWeight: 'bold', fontFamily: FONT, fill: '#000', lineHeight: 20 },
        s: { fontSize: 9, fontWeight: 'bold', fontFamily: FONT, fill: '#000', lineHeight: 12, verticalAlign: 'bottom' },
        p: { fontSize: 9, fontWeight: 'bold', fontFamily: FONT, fill: '#000', lineHeight: 12, verticalAlign: 'top' },
      },
    },
    z: 10,
  });
  return { animation: false, backgroundColor: '#fff', grid, xAxis, yAxis, series, graphic };
}

export default function App() {
  const ref = useRef<HTMLDivElement>(null);
  useEffect(() => {
    const chart = echarts.init(ref.current!, null, { renderer: 'svg' });
    chart.setOption(buildOption() as any);
    return () => chart.dispose();
  }, []);
  return <div ref={ref} style={{ position: 'absolute', left: 0, top: 0, width: 764, height: 455 }} />;
}
